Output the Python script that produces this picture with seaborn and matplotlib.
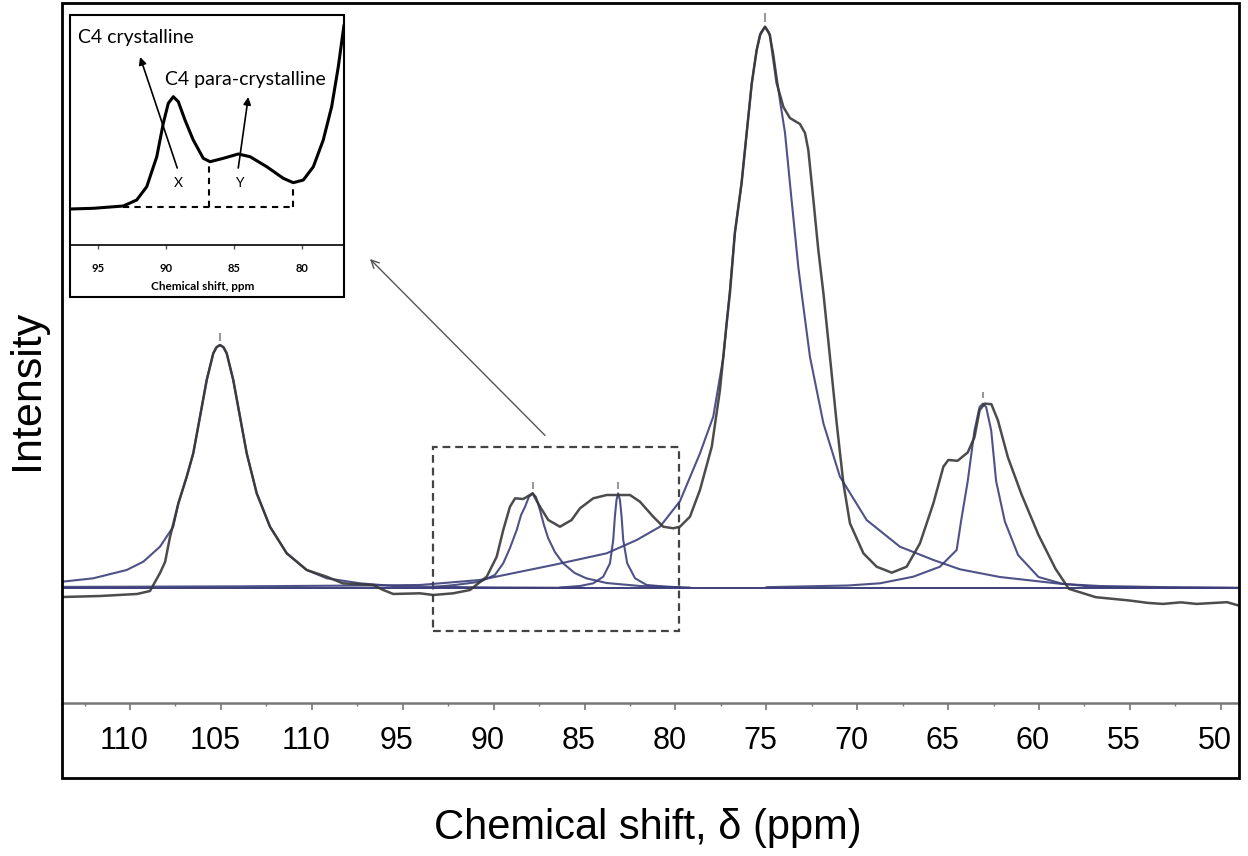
import numpy as np
import pandas as pd
import matplotlib
matplotlib.use("Agg")
import matplotlib.pyplot as plt
import matplotlib.transforms as mtransforms
from matplotlib.patches import Rectangle
import seaborn as sns

# ---------------- data (ppm, intensity a.u., main peak = 100) ----------------
exp_ppm = [113.74, 111.65, 109.61, 108.90, 108.35, 108.07, 107.80, 107.34, 106.88, 106.52,
           106.15, 105.78, 105.42, 105.24, 105.05, 104.86, 104.68, 104.32, 103.95, 103.58,
           103.03, 102.30, 101.38, 100.28, 99.18, 98.30, 96.63, 96.07, 95.52, 94.05,
           93.32, 92.22, 91.30, 90.38, 89.83, 89.47, 89.10, 88.82, 88.37, 87.85,
           87.45, 86.99, 86.35, 85.71, 85.25, 84.52, 83.78, 83.05, 82.50, 81.95,
           81.22, 80.67, 80.12, 79.75, 79.20, 78.65, 78.00, 77.55, 77.18, 77.00,
           76.73, 76.36, 76.08, 75.80, 75.53, 75.35, 75.07, 74.80, 74.43, 74.06,
           73.70, 73.15, 72.87, 72.69, 72.41, 72.14, 71.86, 71.50, 71.13, 70.76,
           70.40, 69.66, 68.93, 68.10, 67.28, 66.55, 65.81, 65.26, 64.99, 64.48,
           63.92, 63.55, 63.27, 62.99, 62.62, 62.26, 61.71, 60.96, 60.03, 59.10,
           58.36, 56.88, 55.03, 54.00, 53.18, 52.20, 51.33, 49.66, 49.00]
exp_int = [-1.55, -1.37, -1.01, -0.48, 2.72, 4.68, 9.13, 15.12, 19.86, 24.02,
           30.53, 37.06, 41.81, 42.90, 43.29, 42.90, 41.81, 37.06, 30.53, 24.02,
           16.90, 10.96, 6.23, 3.26, 2.06, 0.89, 0.59, -0.30, -1.01, -0.89,
           -1.19, -0.89, -0.30, 2.06, 5.62, 10.37, 14.52, 16.01, 15.89, 16.90,
           14.52, 12.15, 10.96, 12.15, 14.23, 16.01, 16.60, 16.60, 16.60, 15.41,
           12.74, 10.96, 10.68, 10.96, 12.74, 17.49, 25.20, 35.28, 47.21, 52.54,
           63.22, 72.12, 81.01, 89.86, 95.78, 98.45, 99.93, 98.45, 89.91, 85.64,
           83.68, 82.61, 81.01, 77.99, 69.09, 60.20, 52.54, 41.21, 29.41, 18.68,
           11.57, 6.23, 3.84, 2.78, 3.84, 7.99, 15.12, 21.64, 22.83, 22.69,
           24.18, 26.89, 31.67, 32.86, 32.76, 29.88, 23.29, 16.69, 9.50, 3.51,
           -0.09, -1.58, -2.17, -2.60, -2.78, -2.50, -2.78, -2.47, -3.08]

fit105_ppm = [113.74, 112.02, 110.18, 109.27, 108.35, 107.62, 107.34, 106.88, 106.52, 106.15,
              105.78, 105.42, 105.24, 105.05, 104.86, 104.68, 104.32, 103.95, 103.58, 103.03,
              102.30, 101.38, 100.28, 99.18, 97.35, 95.53, 93.68, 90.00, 85.00]
fit105_int = [1.17, 1.78, 3.26, 4.73, 7.40, 10.96, 15.12, 19.86, 24.02, 30.53,
              37.06, 41.81, 42.90, 43.29, 42.90, 41.81, 37.06, 30.53, 24.02, 16.90,
              10.96, 6.23, 3.26, 1.78, 0.89, 0.41, 0.28, 0.15, 0.08]

fit88_ppm = [93.34, 92.12, 90.75, 89.93, 89.47, 89.10, 88.73, 88.49, 88.27, 88.06,
             87.85, 87.67, 87.45, 87.23, 87.00, 86.63, 86.18, 85.54, 84.90, 83.78,
             81.95, 79.75]
fit88_int = [0.23, 0.59, 1.17, 2.37, 4.45, 7.17, 10.37, 13.04, 14.52, 16.25,
             16.90, 16.25, 13.93, 11.26, 8.95, 6.46, 4.45, 2.72, 1.78, 0.94,
             0.41, 0.18]

fit83_ppm = [86.35, 85.25, 84.52, 83.97, 83.60, 83.42, 83.33, 83.24, 83.15, 83.05,
             82.96, 82.87, 82.65, 82.22, 81.58, 80.48, 79.20]
fit83_int = [0.14, 0.41, 0.89, 2.06, 4.45, 8.59, 12.74, 15.71, 16.90, 15.71,
             12.74, 8.59, 4.45, 1.78, 0.59, 0.28, 0.14]

fit75_ppm = [113.74, 104.00, 97.00, 94.05, 90.75, 86.72, 83.78, 82.13, 80.85, 79.75,
             78.65, 77.92, 77.36, 77.00, 76.73, 76.36, 76.08, 75.80, 75.53, 75.30,
             75.07, 74.85, 74.62, 74.25, 73.97, 73.61, 73.24, 73.06, 72.60, 71.86,
             70.95, 69.48, 67.65, 65.81, 64.35, 62.15, 58.73, 56.65, 53.00, 49.00]
fit75_int = [0.25, 0.35, 0.50, 0.59, 1.48, 4.15, 6.23, 8.59, 10.96, 15.50,
             24.00, 30.53, 41.21, 53.08, 63.22, 72.12, 81.01, 89.86, 95.78, 98.90,
             99.93, 98.90, 95.25, 86.81, 81.01, 69.09, 57.17, 52.54, 41.21, 29.36,
             19.86, 12.15, 7.40, 5.04, 3.38, 2.01, 0.77, 0.41, 0.20, 0.10]

fit63_ppm = [75.00, 70.50, 68.75, 66.92, 65.45, 64.53, 64.29, 63.92, 63.55, 63.27,
             63.09, 62.91, 62.63, 62.36, 61.88, 61.15, 60.03, 58.73, 56.88, 52.00, 49.00]
fit63_int = [0.20, 0.50, 0.89, 2.06, 3.84, 6.81, 11.90, 19.09, 28.08, 32.26,
             32.86, 32.26, 28.08, 19.09, 11.90, 5.91, 2.01, 0.82, 0.23, 0.10, 0.05]

baseline_ppm = [113.74, 49.00]
baseline_int = [0.0, 0.0]

peak_ppm = [105.05, 87.85, 83.15, 75.07, 63.09]
peak_mark_lo = [44.0, 17.6, 17.6, 100.8, 33.8]
peak_mark_hi = [45.4, 19.0, 19.0, 102.4, 35.0]

main_ticks = [110, 105, 100, 95, 90, 85, 80, 75, 70, 65, 60, 55, 50]
main_tick_labels = ["110", "105", "110", "95", "90", "85", "80", "75", "70", "65", "60", "55", "50"]
main_minor_ticks = [112.5, 107.5, 102.5, 97.5, 92.5, 87.5, 82.5, 77.5, 72.5, 67.5, 62.5, 57.5, 52.5]

inset_ppm = [97.09, 95.37, 93.16, 92.17, 91.43, 90.69, 90.21, 89.84, 89.47, 89.10,
             88.61, 88.00, 87.26, 86.76, 85.78, 84.68, 83.81, 82.58, 81.36, 80.62,
             79.88, 79.14, 78.41, 77.79, 77.30, 76.88]
inset_int = [0.0, 0.7, 3.0, 9.0, 22.3, 52.3, 85.7, 105.7, 112.3, 107.3,
             89.0, 69.0, 50.7, 47.3, 50.7, 55.0, 52.3, 42.3, 30.7, 26.3,
             29.0, 42.3, 69.0, 102.3, 142.3, 184.0]
inset_ticks = [95, 90, 85, 80]
inset_tick_labels = ["95", "90", "85", "80"]

# ---------------- figure ----------------
sns.set_theme(style="white")
plt.rcParams["font.family"] = ["Liberation Sans", "DejaVu Sans"]
plt.rcParams["text.color"] = "black"
plt.rcParams["xtick.labelcolor"] = "black"

W, H = 1248, 856
fig = plt.figure(figsize=(W / 100, H / 100), dpi=100)
fig.patch.set_facecolor("white")


def fx(px):
    return px / W


def fy(py):
    return 1 - py / H


ax = fig.add_axes([fx(62), fy(703), fx(1239) - fx(62), fy(3) - fy(703)])
ax.set_facecolor("white")

fit_color = "#3c3f7a"
exp_color = "#383838"

sns.lineplot(x=baseline_ppm, y=baseline_int, ax=ax, color=fit_color, lw=1.4, sort=False, estimator=None)
for xs, ys in [(fit105_ppm, fit105_int), (fit88_ppm, fit88_int), (fit83_ppm, fit83_int),
               (fit75_ppm, fit75_int), (fit63_ppm, fit63_int)]:
    sns.lineplot(x=xs, y=ys, ax=ax, color=fit_color, lw=1.5, alpha=0.9, sort=False, estimator=None)
sns.lineplot(x=exp_ppm, y=exp_int, ax=ax, color=exp_color, lw=1.8, alpha=0.9, sort=False, estimator=None)

ax.vlines(peak_ppm, peak_mark_lo, peak_mark_hi, color="#999999", lw=1.5)

ax.set_xlim(113.74, 49.0)
ax.set_ylim(-20.41, 104.15)
ax.set_xlabel("")
ax.set_ylabel("")
ax.set_yticks([])
ax.set_xticks(main_ticks)
ax.set_xticklabels(main_tick_labels, fontsize=22, color="black")
ax.set_xticks(main_minor_ticks, minor=True)
ax.tick_params(axis="x", which="major", direction="out", length=5, width=1.2, color="#777777", pad=11.5,
               bottom=True, labelcolor="black")
ax.tick_params(axis="x", which="minor", direction="out", length=2.5, width=1.0, color="#777777", bottom=True)
for s in ["top", "left", "right"]:
    ax.spines[s].set_visible(False)
ax.spines["bottom"].set_color("#777777")
ax.spines["bottom"].set_linewidth(1.8)
offset = mtransforms.ScaledTranslation(-6 / 100, 0, fig.dpi_scale_trans)
for lab in ax.get_xticklabels():
    lab.set_transform(lab.get_transform() + offset)

# dashed zoom box
ax.add_patch(Rectangle((93.35, -7.65), 79.79 - 93.35, 25.1 + 7.65, fill=False, ec="#444444",
                       lw=1.6, ls=(0, (3.5, 2.2))))
# arrow to inset
ax.annotate("", xy=(96.8, 58.6), xytext=(87.17, 27.2),
            arrowprops=dict(arrowstyle="->", color="#555555", lw=1.0, shrinkA=0, shrinkB=0,
                            mutation_scale=14))

# outer frame of the main chart
fig.add_artist(Rectangle((fx(62), fy(778)), fx(1239) - fx(62), fy(3) - fy(778),
                         transform=fig.transFigure, fill=False, ec="black", lw=2))

fig.text(fx(27), fy(390), "Intensity", rotation=90, ha="center", va="center", fontsize=31, color="black")
fig.text(fx(648), fy(828), "Chemical shift, δ (ppm)", ha="center", va="center", fontsize=30, color="black")

# ---------------- inset ----------------
ax_in = fig.add_axes([fx(70), fy(245), fx(344) - fx(70), fy(15) - fy(245)])
ax_in.set_facecolor("white")
fig.add_artist(Rectangle((fx(70), fy(297)), fx(344) - fx(70), fy(15) - fy(297),
                         transform=fig.transFigure, fill=False, ec="black", lw=1.5, zorder=5))
sns.lineplot(x=inset_ppm, y=inset_int, ax=ax_in, color="black", lw=2.2, sort=False, estimator=None)
ax_in.plot([93.17, 80.64], [2, 2], color="black", lw=1.5, ls=(0, (3, 2.5)))
ax_in.plot([86.82, 86.82], [2, 47], color="black", lw=1.5, ls=(0, (3, 2.5)))
ax_in.plot([80.64, 80.64], [2, 24], color="black", lw=1.5, ls=(0, (3, 2.5)))
ax_in.set_xlim(97.09, 76.88)
ax_in.set_ylim(-36, 194)
ax_in.set_xlabel("")
ax_in.set_ylabel("")
ax_in.set_yticks([])
ax_in.set_xticks(inset_ticks)
ax_in.set_xticklabels(inset_tick_labels, fontsize=8, fontweight="bold", family=["Lato", "DejaVu Sans"],
                      color="black")
ax_in.tick_params(axis="x", direction="out", length=3, width=1, color="#555555", pad=10, bottom=True)
for s in ["top", "left", "right"]:
    ax_in.spines[s].set_visible(False)
ax_in.spines["bottom"].set_color("black")
ax_in.spines["bottom"].set_linewidth(1.2)

ax_in.text(96.5, 172, "C4 crystalline", ha="left", va="center", fontsize=14, family=["Lato", "DejaVu Sans"])
ax_in.text(90.08, 130, "C4 para-crystalline", ha="left", va="center", fontsize=14,
           family=["Lato", "DejaVu Sans"])
ax_in.text(89.1, 26, "X", ha="center", va="center", fontsize=10, family=["Lato", "DejaVu Sans"])
ax_in.text(84.6, 26, "Y", ha="center", va="center", fontsize=10, family=["Lato", "DejaVu Sans"])
ax_in.annotate("", xy=(91.92, 152), xytext=(89.18, 41),
               arrowprops=dict(arrowstyle="-|>", color="black", lw=1.2, mutation_scale=11,
                               shrinkA=0, shrinkB=0))
ax_in.annotate("", xy=(83.94, 112), xytext=(84.68, 41),
               arrowprops=dict(arrowstyle="-|>", color="black", lw=1.2, mutation_scale=11,
                               shrinkA=0, shrinkB=0))
fig.text(fx(203), fy(286), "Chemical shift, ppm", ha="center", va="center", fontsize=8.5,
         fontweight="bold", family=["Lato", "DejaVu Sans"], color="black")

fig.savefig("out.png", dpi=100, facecolor="white")
